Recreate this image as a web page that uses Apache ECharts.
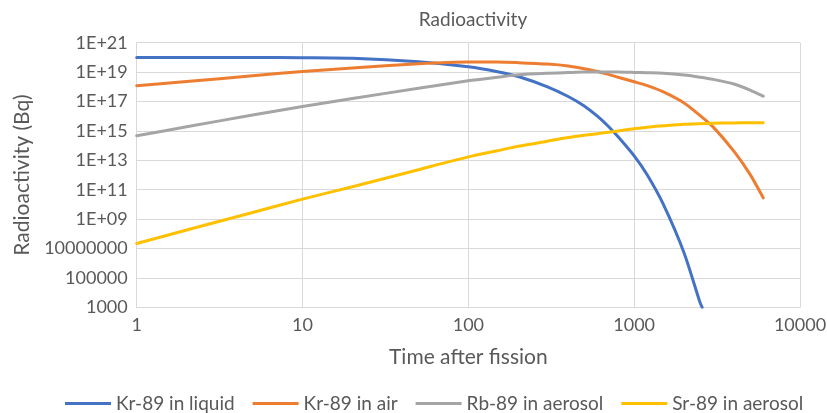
<!DOCTYPE html>
<html>
<head>
<meta charset="utf-8">
<script src="https://cdn.jsdelivr.net/npm/echarts@6/dist/echarts.min.js"></script>
<style>
html,body{margin:0;padding:0;background:#fff;}
#chart{width:827px;height:413px;}
</style>
</head>
<body>
<div id="chart"></div>
<script>
// ---- data (time after fission, activity in Bq) ----
const seriesNames = ['Kr-89 in liquid', 'Kr-89 in air', 'Rb-89 in aerosol', 'Sr-89 in aerosol'];

const krLiquidTimes = [1, 2, 5, 10, 20, 50, 100, 150, 200, 300, 400, 500, 600, 700, 800, 1000, 1200, 1500, 2000, 2500, 2570];
const krLiquid = [1.0e20, 1.0e20, 9.8e19, 9.5e19, 8.7e19, 5.0e19, 2.3e19, 1.07e19, 5.0e18, 1.0e18, 2.2e17, 5.0e16, 1.0e16, 2.0e15, 4.0e14, 2.0e13, 1.0e12, 1.0e10, 5.0e6, 2.0e3, 1.0e3];

const times = [1, 2, 5, 10, 20, 50, 100, 150, 200, 300, 400, 500, 600, 700, 800, 1000, 1200, 1500, 2000, 2500, 3000, 4000, 5000, 6000];
const krAir = [1.2e18, 2.3e18, 5.6e18, 1.1e19, 1.9e19, 3.7e19, 4.9e19, 4.9e19, 4.4e19, 3.5e19, 2.6e19, 1.7e19, 1.1e19, 7.0e18, 4.5e18, 2.2e18, 1.2e18, 4.5e17, 8.0e16, 1.1e16, 1.8e15, 4.0e13, 1.1e12, 2.8e10];
const rbAerosol = [4.7e14, 1.9e15, 1.2e16, 4.5e16, 1.6e17, 7.9e17, 2.6e18, 4.5e18, 6.5e18, 8.3e18, 9.3e18, 1.0e19, 1.0e19, 1.0e19, 1.0e19, 9.5e18, 9.0e18, 8.3e18, 6.3e18, 4.5e18, 3.2e18, 1.55e18, 6.0e17, 2.3e17];
const srAerosol = [2.2e7, 1.8e8, 2.8e9, 2.3e10, 1.6e11, 2.3e12, 1.7e13, 4.5e13, 8.9e13, 2.0e14, 3.5e14, 5.0e14, 6.5e14, 8.0e14, 1.0e15, 1.4e15, 1.8e15, 2.2e15, 2.8e15, 3.1e15, 3.3e15, 3.5e15, 3.6e15, 3.6e15];

const colors = ['#4472C4', '#ED7D31', '#A5A5A5', '#FFC000'];

function pairs(xs, ys) { return xs.map((x, i) => [x, ys[i]]); }

const seriesData = [
  pairs(krLiquidTimes, krLiquid),
  pairs(times, krAir),
  pairs(times, rbAerosol),
  pairs(times, srAerosol)
];

const FONT = 'Lato';
const TXT = '#595959';
const GRID = '#D9D9D9';

function yLabel(v) {
  const e = Math.round(Math.log10(v));
  if (e >= 9) return '1E+' + (e < 10 ? '0' + e : e);
  return '1' + '0'.repeat(e);
}
function xLabel(v) {
  const e = Math.round(Math.log10(v));
  return '1' + '0'.repeat(e);
}

const chart = echarts.init(document.getElementById('chart'), null, {renderer: 'canvas'});
chart.setOption({
  backgroundColor: '#fff',
  animation: false,
  color: colors,
  textStyle: {fontFamily: FONT},
  title: {
    text: 'Radioactivity',
    left: 468,
    textAlign: 'center',
    top: 5,
    textStyle: {fontFamily: FONT, fontSize: 19, fontWeight: 'normal', color: TXT}
  },
  legend: {
    data: seriesNames,
    left: 60,
    top: 389,
    icon: 'rect',
    itemWidth: 46,
    itemHeight: 3,
    itemGap: 18,
    textStyle: {fontFamily: FONT, fontSize: 19, color: TXT}
  },
  grid: {
    left: 136.7,
    right: 27,
    top: 42.7,
    bottom: 105.7,
    containLabel: false,
    outerBoundsMode: 'none'
  },
  xAxis: {
    type: 'log',
    logBase: 10,
    min: 1,
    max: 10000,
    interval: 1,
    name: 'Time after fission',
    nameLocation: 'middle',
    nameGap: 39,
    nameTextStyle: {fontFamily: FONT, fontSize: 21, color: TXT},
    axisLine: {show: true, lineStyle: {color: GRID, width: 1}},
    axisTick: {show: false},
    axisLabel: {fontFamily: FONT, fontSize: 18, color: TXT, margin: 9, formatter: xLabel},
    splitLine: {show: true, lineStyle: {color: GRID, width: 1}},
    minorTick: {show: false},
    minorSplitLine: {show: false}
  },
  yAxis: {
    type: 'log',
    logBase: 10,
    min: 1000,
    max: 1e21,
    interval: 2,
    name: 'Radioactivity (Bq)',
    nameLocation: 'middle',
    nameGap: 104,
    nameRotate: 90,
    nameTextStyle: {fontFamily: FONT, fontSize: 21, color: TXT},
    axisLine: {show: true, lineStyle: {color: GRID, width: 1}},
    axisTick: {show: false},
    axisLabel: {fontFamily: FONT, fontSize: 18, color: TXT, margin: 9, formatter: yLabel},
    splitLine: {show: true, lineStyle: {color: GRID, width: 1}}
  },
  series: seriesNames.map((n, i) => ({
    name: n,
    type: 'line',
    data: seriesData[i],
    showSymbol: false,
    smooth: 0.25,
    clip: true,
    lineStyle: {width: 3, color: colors[i], cap: 'round', join: 'round'},
    itemStyle: {color: colors[i]}
  }))
});
</script>
</body>
</html>
